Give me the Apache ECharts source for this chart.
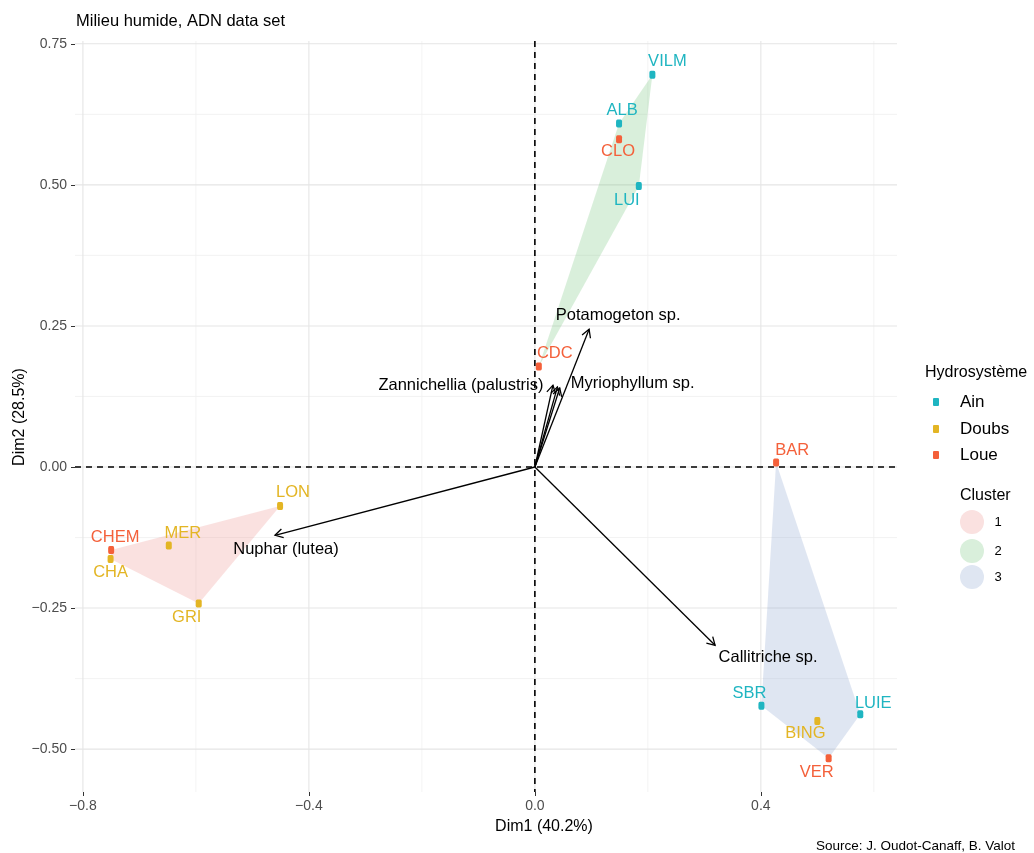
<!DOCTYPE html>
<html>
<head>
<meta charset="utf-8">
<script src="https://cdn.jsdelivr.net/npm/echarts@6/dist/echarts.min.js"></script>
<style>
html,body{margin:0;padding:0;background:#fff;}
#chart{width:1034px;height:853px;}
</style>
</head>
<body>
<div id="chart"></div>
<script>
// ---- Data ----
const sites = ['VILM','ALB','CLO','LUI','CDC','BAR','SBR','LUIE','BING','VER','LON','MER','CHEM','CHA','GRI'];
const dim1  = [0.208, 0.149, 0.149, 0.184, 0.007, 0.427, 0.401, 0.576, 0.500, 0.520, -0.451, -0.648, -0.750, -0.751, -0.595];
const dim2  = [0.695, 0.609, 0.581, 0.498, 0.178, 0.008, -0.423, -0.438, -0.450, -0.516, -0.069, -0.139, -0.147, -0.163, -0.242];
const hydro = ['Ain','Ain','Loue','Ain','Loue','Loue','Ain','Ain','Doubs','Loue','Doubs','Doubs','Loue','Doubs','Doubs'];
const cluster = [2,2,2,2,2,3,3,3,3,3,1,1,1,1,1];
const hydroLevels = ['Ain','Doubs','Loue'];
const clusterLevels = [1,2,3];

const varNames = ['Potamogeton sp.','Zannichellia (palustris)','','Myriophyllum sp.','Nuphar (lutea)','Callitriche sp.'];
const varDim1  = [0.096, 0.032, 0.040, 0.044, -0.460, 0.319];
const varDim2  = [0.244, 0.145, 0.142, 0.140, -0.121, -0.316];

const xTicks = [-0.8, -0.4, 0.0, 0.4];
const xTickLabels = ['\u22120.8','\u22120.4','0.0','0.4'];
const yTicks = [-0.5, -0.25, 0.0, 0.25, 0.5, 0.75];
const yTickLabels = ['\u22120.50','\u22120.25','0.00','0.25','0.50','0.75'];
const xMinor = [-0.6, -0.2, 0.2, 0.6];
const yMinor = [-0.375, -0.125, 0.125, 0.375, 0.625];

// ---- Styles / placement ----
const hydroColors = {Ain:'#1FB5C1', Doubs:'#E3B524', Loue:'#F4603A'};
const clusterFill = {1:'rgba(235,135,131,0.25)', 2:'rgba(103,191,111,0.25)', 3:'rgba(127,155,203,0.25)'};
const clusterKey = {1:'#FAE1E0', 2:'#D9EFDB', 3:'#DFE6F2'};
const siteLabelOffset = {
  VILM:[15,-13], ALB:[3,-13], CLO:[-1,12], LUI:[-12,14], CDC:[16,-13], BAR:[16,-12],
  SBR:[-12,-12], LUIE:[13,-11], BING:[-12,13], VER:[-12,14], LON:[13,-13], MER:[14,-12],
  CHEM:[4,-12], CHA:[0,13], GRI:[-12,14]
};
const varLabelOffset = {
  'Potamogeton sp.':[29,-14], 'Zannichellia (palustris)':[-92,0], '':[0,0],
  'Myriophyllum sp.':[73,-5], 'Nuphar (lutea)':[11,14], 'Callitriche sp.':[53,12]
};

// ---- Helpers ----
function convexHull(pts){
  const p = pts.slice().sort((a,b)=>a[0]-b[0]||a[1]-b[1]);
  const cross=(o,a,b)=>(a[0]-o[0])*(b[1]-o[1])-(a[1]-o[1])*(b[0]-o[0]);
  const lower=[],upper=[];
  for(const q of p){while(lower.length>=2&&cross(lower[lower.length-2],lower[lower.length-1],q)<=0)lower.pop();lower.push(q);}
  for(let i=p.length-1;i>=0;i--){const q=p[i];while(upper.length>=2&&cross(upper[upper.length-2],upper[upper.length-1],q)<=0)upper.pop();upper.push(q);}
  upper.pop();lower.pop();return lower.concat(upper);
}
const hulls = clusterLevels.map(c=>convexHull(sites.map((s,i)=>[dim1[i],dim2[i],cluster[i]]).filter(p=>p[2]===c).map(p=>[p[0],p[1]])));

function fmt(ticks, labels){
  return function(v){ for(let i=0;i<ticks.length;i++){ if(Math.abs(ticks[i]-v)<1e-6) return labels[i]; } return ''; };
}

function gridSeries(vals, vertical, color, width, dash, z){
  return {
    type:'custom', coordinateSystem:'cartesian2d', silent:true, z:z, clip:false,
    data: vals.map(v=> vertical ? [v,0] : [0,v]),
    renderItem:function(params, api){
      const cs = params.coordSys;
      const p = api.coord([api.value(0), api.value(1)]);
      const shape = vertical ? {x1:p[0],y1:cs.y,x2:p[0],y2:cs.y+cs.height} : {x1:cs.x,y1:p[1],x2:cs.x+cs.width,y2:p[1]};
      return {type:'line', shape:shape, style:{stroke:color, lineWidth:width, lineDash:dash||null}};
    }
  };
}

const series = [];
series.push(gridSeries(xMinor, true, '#F0F0F0', 0.8, null, 0));
series.push(gridSeries(yMinor, false, '#F0F0F0', 0.8, null, 0));
series.push(gridSeries(xTicks, true, '#E5E5E5', 1.1, null, 0));
series.push(gridSeries(yTicks, false, '#E5E5E5', 1.1, null, 0));

// hulls
series.push({
  type:'custom', coordinateSystem:'cartesian2d', silent:true, z:1,
  data: hulls.map(h=>[h[0][0],h[0][1]]),
  renderItem:function(params, api){
    const h = hulls[params.dataIndex];
    const pts = h.map(p=>api.coord(p));
    return {type:'polygon', shape:{points:pts}, style:{fill:clusterFill[clusterLevels[params.dataIndex]], stroke:null}};
  }
});

// zero dashed lines
series.push(gridSeries([0], true, '#000', 1.6, [6,5], 2));
series.push(gridSeries([0], false, '#000', 1.6, [6,5], 2));

// arrows
series.push({
  type:'custom', coordinateSystem:'cartesian2d', silent:true, z:3,
  data: varNames.map((n,i)=>[varDim1[i], varDim2[i]]),
  renderItem:function(params, api){
    const o = api.coord([0,0]);
    const t = api.coord([api.value(0), api.value(1)]);
    const ang = Math.atan2(t[1]-o[1], t[0]-o[0]);
    const L = 9, a = Math.PI/6;
    const p1 = [t[0]-L*Math.cos(ang-a), t[1]-L*Math.sin(ang-a)];
    const p2 = [t[0]-L*Math.cos(ang+a), t[1]-L*Math.sin(ang+a)];
    const name = varNames[params.dataIndex];
    const off = varLabelOffset[name];
    const children = [
      {type:'line', shape:{x1:o[0],y1:o[1],x2:t[0],y2:t[1]}, style:{stroke:'#000', lineWidth:1.3}},
      {type:'polyline', shape:{points:[p1,t,p2]}, style:{stroke:'#000', fill:null, lineWidth:1.3}}
    ];
    if(name){
      children.push({type:'text', x:t[0]+off[0], y:t[1]+off[1], z2:10,
        style:{text:name, fill:'#000', font:'16.5px "Liberation Sans", Arial, sans-serif', align:'center', verticalAlign:'middle'}});
    }
    return {type:'group', children:children};
  }
});

// points
hydroLevels.forEach(h=>{
  series.push({
    type:'scatter', name:h, z:4,
    symbol:'roundRect', symbolSize:[6,8],
    itemStyle:{color:hydroColors[h], opacity:1},
    data: sites.map((s,i)=>({s:s,i:i})).filter(o=>hydro[o.i]===h).map(o=>({
      name:o.s, value:[dim1[o.i], dim2[o.i]],
      label:{offset:siteLabelOffset[o.s]}
    })),
    label:{show:true, position:'inside', formatter:'{b}', color:hydroColors[h],
      fontSize:16.5, fontFamily:'"Liberation Sans", Arial, sans-serif', align:'center', verticalAlign:'middle'},
    emphasis:{disabled:true}
  });
});

const font = '"Liberation Sans", Arial, sans-serif';
const graphics = [
  {type:'text', left:76, top:13, style:{text:'Milieu humide, ADN data set', font:'16.5px '+font, fill:'#000'}},
  {type:'text', x:544, y:827, style:{text:'Dim1 (40.2%)', font:'16px '+font, fill:'#000', align:'center', verticalAlign:'middle'}},
  {type:'text', x:20, y:417, rotation:Math.PI/2, style:{text:'Dim2 (28.5%)', font:'16px '+font, fill:'#000', align:'center', verticalAlign:'middle'}},
  {type:'text', x:1015, y:846, style:{text:'Source: J. Oudot-Canaff, B. Valot', font:'13.5px '+font, fill:'#000', align:'right', verticalAlign:'middle'}},
  {type:'text', x:925, y:373, style:{text:'Hydrosystème', font:'16px '+font, fill:'#000', align:'left', verticalAlign:'middle'}},
  {type:'text', x:960, y:496, style:{text:'Cluster', font:'16px '+font, fill:'#000', align:'left', verticalAlign:'middle'}}
];
const hydroKeyY = [402, 429, 455];
hydroLevels.forEach((h,k)=>{
  graphics.push({type:'rect', shape:{x:933, y:hydroKeyY[k]-4, width:6, height:8, r:1}, style:{fill:hydroColors[h]}});
  graphics.push({type:'text', x:960, y:hydroKeyY[k], style:{text:h, font:'17px '+font, fill:'#000', align:'left', verticalAlign:'middle'}});
});
const clusterKeyY = [522, 551, 577];
clusterLevels.forEach((c,k)=>{
  graphics.push({type:'circle', shape:{cx:972, cy:clusterKeyY[k], r:12}, style:{fill:clusterKey[c]}});
  graphics.push({type:'text', x:998, y:clusterKeyY[k], style:{text:String(c), font:'13px '+font, fill:'#000', align:'center', verticalAlign:'middle'}});
});

const chart = echarts.init(document.getElementById('chart'), null, {renderer:'canvas'});
chart.setOption({
  animation:false,
  backgroundColor:'#fff',
  grid:{left:75, right:137, top:41, bottom:61, containLabel:false},
  xAxis:{type:'value', min:-0.814, max:0.641, position:'bottom',
    axisLine:{show:false, onZero:false},
    axisTick:{show:true, length:4, customValues:xTicks, lineStyle:{color:'#333', width:1}},
    axisLabel:{customValues:xTicks, formatter:fmt(xTicks,xTickLabels), color:'#4d4d4d', fontSize:14, fontFamily:font, margin:7},
    splitLine:{show:false}},
  yAxis:{type:'value', min:-0.576, max:0.755, position:'left',
    axisLine:{show:false, onZero:false},
    axisTick:{show:true, length:4, customValues:yTicks, lineStyle:{color:'#333', width:1}},
    axisLabel:{customValues:yTicks, formatter:fmt(yTicks,yTickLabels), color:'#4d4d4d', fontSize:14, fontFamily:font, margin:8},
    splitLine:{show:false}},
  series:series,
  graphic:graphics
});
</script>
</body>
</html>
